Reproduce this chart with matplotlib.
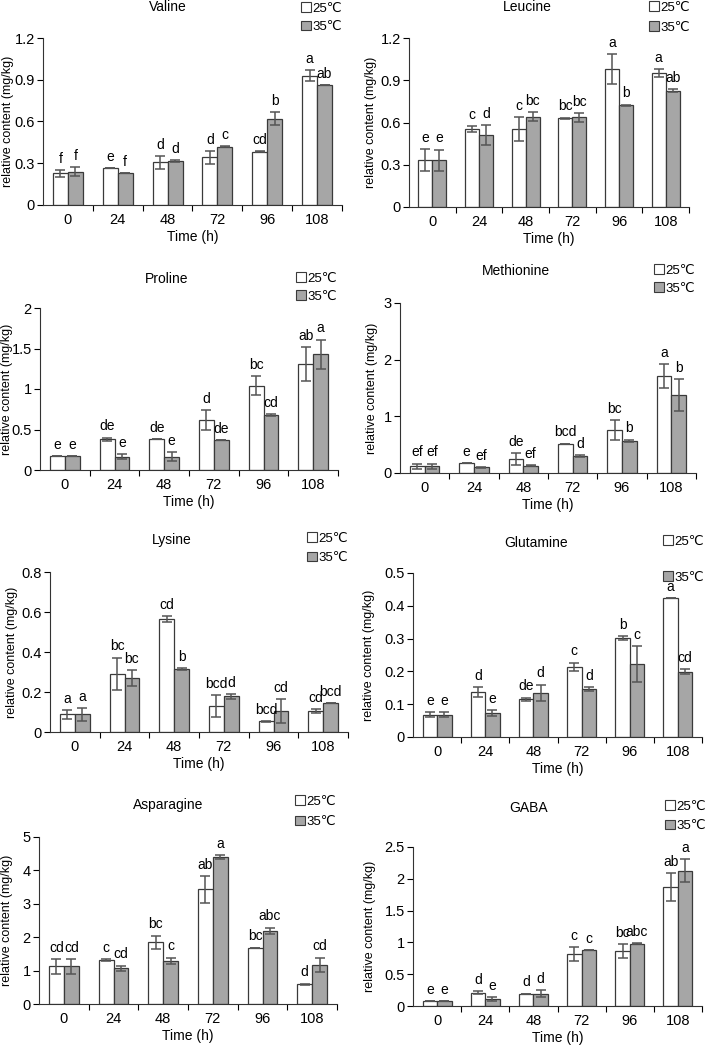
import numpy as np
import matplotlib.pyplot as plt
from matplotlib.patches import Patch

plt.rcParams['font.family'] = ['Liberation Sans', 'DejaVu Sans']

W, H = 709, 1046
times = ['0', '24', '48', '72', '96', '108']

# ---- data ----
names = ['Valine', 'Leucine', 'Proline', 'Methionine',
         'Lysine', 'Glutamine', 'Asparagine', 'GABA']

valine_25 = [0.227, 0.263, 0.306, 0.342, 0.383, 0.928]
valine_25_err = [0.025, 0.0, 0.047, 0.045, 0.004, 0.04]
valine_35 = [0.24, 0.232, 0.316, 0.418, 0.62, 0.86]
valine_35_err = [0.03, 0.0, 0.005, 0.004, 0.047, 0.0]
valine_lab25 = ['f', 'e', 'd', 'd', 'cd', 'a']
valine_lab35 = ['f', 'f', 'd', 'c', 'b', 'ab']

leucine_25 = [0.333, 0.554, 0.551, 0.63, 0.979, 0.95]
leucine_25_err = [0.077, 0.02, 0.085, 0.005, 0.105, 0.03]
leucine_35 = [0.333, 0.511, 0.642, 0.637, 0.722, 0.827]
leucine_35_err = [0.075, 0.07, 0.03, 0.03, 0.005, 0.012]
leucine_lab25 = ['e', 'c', 'c', 'bc', 'a', 'a']
leucine_lab35 = ['e', 'd', 'bc', 'bc', 'b', 'ab']

proline_25 = [0.17, 0.38, 0.38, 0.62, 1.04, 1.31]
proline_25_err = [0.0, 0.02, 0.0, 0.12, 0.12, 0.21]
proline_35 = [0.17, 0.165, 0.165, 0.37, 0.68, 1.43]
proline_35_err = [0.0, 0.03, 0.06, 0.0, 0.01, 0.18]
proline_lab25 = ['e', 'de', 'de', 'd', 'bc', 'ab']
proline_lab35 = ['e', 'e', 'e', 'de', 'cd', 'a']

methionine_25 = [0.117, 0.176, 0.246, 0.52, 0.76, 1.71]
methionine_25_err = [0.05, 0.0, 0.1, 0.0, 0.18, 0.21]
methionine_35 = [0.117, 0.10, 0.13, 0.30, 0.57, 1.38]
methionine_35_err = [0.05, 0.01, 0.01, 0.01, 0.02, 0.28]
methionine_lab25 = ['ef', 'e', 'de', 'bcd', 'bc', 'a']
methionine_lab35 = ['ef', 'ef', 'ef', 'd', 'b', 'b']

lysine_25 = [0.088, 0.292, 0.564, 0.131, 0.053, 0.105]
lysine_25_err = [0.022, 0.08, 0.015, 0.055, 0.003, 0.008]
lysine_35 = [0.088, 0.27, 0.314, 0.178, 0.105, 0.146]
lysine_35_err = [0.032, 0.038, 0.005, 0.013, 0.06, 0.0]
lysine_lab25 = ['a', 'bc', 'cd', 'bcd', 'bcd', 'cd']
lysine_lab35 = ['a', 'bc', 'b', 'd', 'cd', 'bcd']

glutamine_25 = [0.068, 0.138, 0.115, 0.214, 0.302, 0.423]
glutamine_25_err = [0.007, 0.015, 0.005, 0.013, 0.005, 0.0]
glutamine_35 = [0.068, 0.073, 0.135, 0.146, 0.222, 0.199]
glutamine_35_err = [0.007, 0.008, 0.025, 0.005, 0.055, 0.007]
glutamine_lab25 = ['e', 'd', 'de', 'c', 'b', 'a']
glutamine_lab35 = ['e', 'e', 'd', 'd', 'c', 'cd']

asparagine_25 = [1.13, 1.32, 1.85, 3.43, 1.68, 0.59]
asparagine_25_err = [0.22, 0.03, 0.2, 0.4, 0.01, 0.02]
asparagine_35 = [1.13, 1.07, 1.29, 4.40, 2.19, 1.17]
asparagine_35_err = [0.22, 0.08, 0.1, 0.07, 0.1, 0.22]
asparagine_lab25 = ['cd', 'c', 'bc', 'ab', 'bc', 'd']
asparagine_lab35 = ['cd', 'cd', 'c', 'a', 'abc', 'cd']

gaba_25 = [0.079, 0.21, 0.194, 0.81, 0.865, 1.87]
gaba_25_err = [0.0, 0.02, 0.0, 0.11, 0.11, 0.22]
gaba_35 = [0.079, 0.105, 0.194, 0.875, 0.98, 2.13]
gaba_35_err = [0.0, 0.03, 0.05, 0.0, 0.01, 0.18]
gaba_lab25 = ['e', 'd', 'd', 'c', 'bc', 'ab']
gaba_lab35 = ['e', 'e', 'd', 'c', 'abc', 'a']

series = [
    (valine_25, valine_25_err, valine_35, valine_35_err, valine_lab25, valine_lab35),
    (leucine_25, leucine_25_err, leucine_35, leucine_35_err, leucine_lab25, leucine_lab35),
    (proline_25, proline_25_err, proline_35, proline_35_err, proline_lab25, proline_lab35),
    (methionine_25, methionine_25_err, methionine_35, methionine_35_err, methionine_lab25, methionine_lab35),
    (lysine_25, lysine_25_err, lysine_35, lysine_35_err, lysine_lab25, lysine_lab35),
    (glutamine_25, glutamine_25_err, glutamine_35, glutamine_35_err, glutamine_lab25, glutamine_lab35),
    (asparagine_25, asparagine_25_err, asparagine_35, asparagine_35_err, asparagine_lab25, asparagine_lab35),
    (gaba_25, gaba_25_err, gaba_35, gaba_35_err, gaba_lab25, gaba_lab35),
]

yticks = [
    [0, 0.3, 0.6, 0.9, 1.2],
    [0, 0.3, 0.6, 0.9, 1.2],
    [0, 0.5, 1, 1.5, 2],
    [0, 1, 2, 3],
    [0, 0.2, 0.4, 0.6, 0.8],
    [0, 0.1, 0.2, 0.3, 0.4, 0.5],
    [0, 1, 2, 3, 4, 5],
    [0, 0.5, 1, 1.5, 2, 2.5],
]

# ---- layout in pixels: axes (x0, x1, ytop, ybottom), title (x, y), legend (x, y, spacing),
# ylabel right edge x
axes_px = [(43, 342, 38, 205), (409, 689, 38, 207),
           (40, 338, 308, 470), (400, 696, 303, 473),
           (50, 348, 572, 732), (413, 702, 573, 737),
           (39, 337, 837, 1004), (413, 702, 847, 1006)]
title_px = [(168, 7), (527, 7), (167, 279), (516, 271),
            (172, 540), (536, 543), (168, 805), (529, 808)]
legend_px = [(300, 1, 0.5), (648, 0, 0.6), (295, 271, 0.45), (653, 263, 0.45),
             (306, 531, 0.55), (662, 534, 1.8), (294, 794, 0.65), (664, 799, 0.55)]
ylabel_px = [14, 377, 13, 378, 18, 375, 13, 376]

fig = plt.figure(figsize=(W / 100, H / 100), dpi=100)
x = np.arange(len(times))
bw = 0.3
edge = '#3a3a3a'
gray = '#a6a6a6'
ecol = '#555555'

for i, name in enumerate(names):
    x0, x1, yt, yb = axes_px[i]
    ax = fig.add_axes([x0 / W, 1 - yb / H, (x1 - x0) / W, (yb - yt) / H])
    v25, e25, v35, e35, l25, l35 = series[i]
    ax.bar(x - bw / 2, v25, bw, color='white', edgecolor=edge, linewidth=0.9)
    ax.bar(x + bw / 2, v35, bw, color=gray, edgecolor=edge, linewidth=0.9)
    ax.errorbar(x - bw / 2, v25, yerr=e25, fmt='none', ecolor=ecol, elinewidth=1.1,
                capsize=3.5, capthick=1.1)
    ax.errorbar(x + bw / 2, v35, yerr=e35, fmt='none', ecolor=ecol, elinewidth=1.1,
                capsize=3.5, capthick=1.1)
    for j in range(len(times)):
        ax.annotate(l25[j], (x[j] - bw / 2, v25[j] + e25[j]), xytext=(0, 3),
                    textcoords='offset points', ha='center', va='bottom', fontsize=10)
        ax.annotate(l35[j], (x[j] + bw / 2, v35[j] + e35[j]), xytext=(0, 3),
                    textcoords='offset points', ha='center', va='bottom', fontsize=10)

    ax.set_xlim(-0.5, len(times) - 0.5)
    ax.set_ylim(yticks[i][0], yticks[i][-1])
    ax.set_yticks(yticks[i])
    ax.set_yticklabels([f'{t:g}' for t in yticks[i]], fontsize=10.5)
    ax.set_xticks(np.arange(0.5, len(times), 1))
    ax.set_xticklabels([])
    ax.set_xticks(x, minor=True)
    ax.set_xticklabels(times, minor=True, fontsize=10.5)
    ax.tick_params(axis='x', which='major', direction='out', length=4, width=0.8)
    ax.tick_params(axis='x', which='minor', length=0, pad=6)
    ax.tick_params(axis='y', direction='out', length=4, width=0.8, pad=2)
    for s in ['top', 'right']:
        ax.spines[s].set_visible(False)
    for s in ['left', 'bottom']:
        ax.spines[s].set_linewidth(0.8)
        ax.spines[s].set_color('#333333')
    ax.set_xlabel('Time (h)', fontsize=10, labelpad=2)
    ax.set_ylabel('relative content (mg/kg)', fontsize=9)
    ax.yaxis.set_label_coords((ylabel_px[i] - x0) / (x1 - x0), 0.5)

    tx, ty = title_px[i]
    fig.text(tx / W, 1 - ty / H, name, ha='center', va='center', fontsize=10)

    lx, ly, sp = legend_px[i]
    handles = [Patch(facecolor='white', edgecolor=edge, linewidth=0.8),
               Patch(facecolor=gray, edgecolor=edge, linewidth=0.8)]
    ax.legend(handles, ['25℃', '35℃'], loc='upper left',
              bbox_to_anchor=(lx / W, 1 - ly / H), bbox_transform=fig.transFigure,
              frameon=False, fontsize=9.5, handlelength=0.7, handleheight=0.7,
              handletextpad=0.15, labelspacing=sp, borderpad=0.1, borderaxespad=0)

fig.savefig('out.png', dpi=100)
